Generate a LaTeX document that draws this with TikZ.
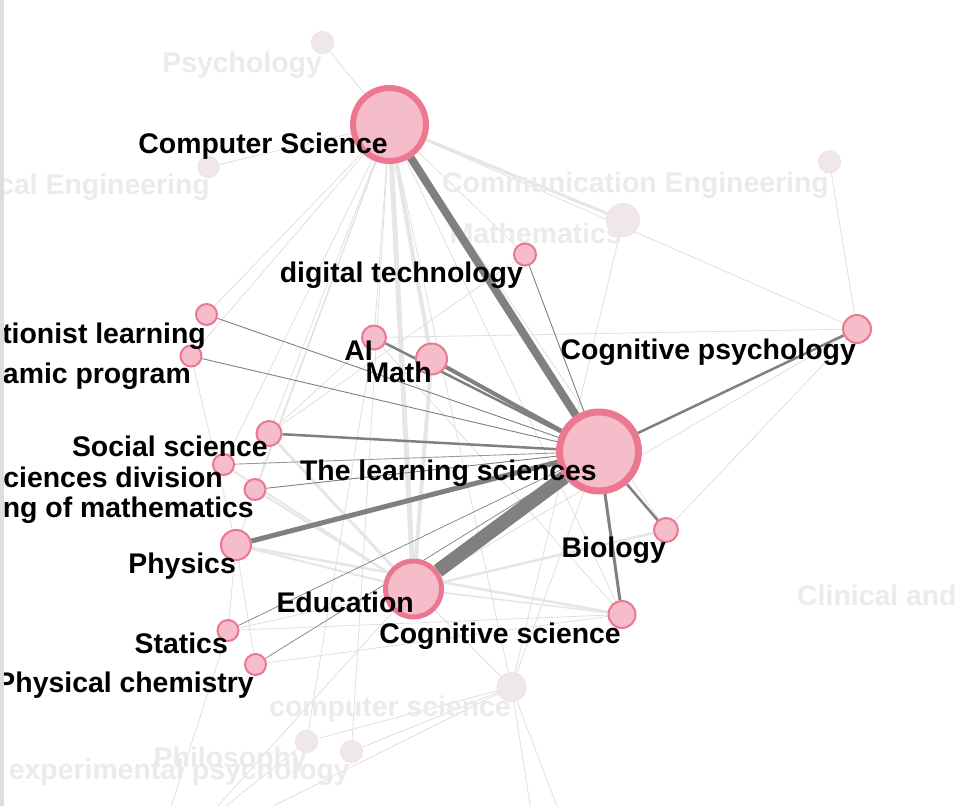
\documentclass[tikz,border=0pt]{standalone}
\usepackage{fontspec}
\setmainfont{Liberation Sans}
\definecolor{pinkfill}{HTML}{F5BCC9}
\definecolor{pinkdraw}{HTML}{EC7790}
\definecolor{fadefill}{HTML}{EFE7EA}
\definecolor{fadedraw}{HTML}{EDE3E6}
\definecolor{fadetext}{HTML}{EBEBEB}
\definecolor{darkedge}{HTML}{808080}
\definecolor{midedge}{HTML}{9A9A9A}
\definecolor{lightedge}{HTML}{E0E0E0}
\definecolor{thickedge}{HTML}{E6E6E6}
\definecolor{stripgray}{HTML}{DEDEDE}
\pgfdeclarelayer{bg}
\pgfdeclarelayer{ledge}
\pgfdeclarelayer{fade}
\pgfdeclarelayer{dedge}
\pgfdeclarelayer{labels}
\pgfsetlayers{bg,ledge,fade,dedge,main,labels}
\tikzset{
  hl/.style={circle, fill=pinkfill, draw=pinkdraw, inner sep=0pt},
  fd/.style={circle, fill=fadefill, draw=fadedraw, line width=1pt, inner sep=0pt},
  lab/.style={font=\fontsize{28.4}{30}\selectfont\bfseries, text=black, inner sep=0pt, anchor=base east},
  flab/.style={lab, text=fadetext},
  le/.style={draw=lightedge, line width=0.8pt},
  lt/.style={draw=thickedge},
  de/.style={draw=darkedge},
}
\begin{document}
\begin{tikzpicture}[x=1pt,y=-1pt]
\useasboundingbox (0,0) rectangle (956,806);
\begin{pgfonlayer}{bg}
\fill[white] (0,0) rectangle (956,806);
\end{pgfonlayer}

% highlighted nodes
\node[hl, minimum size=73pt, line width=6pt] (cs) at (389.5,124.5) {};
\node[hl, minimum size=79pt, line width=7pt] (ls) at (599,451.5) {};
\node[hl, minimum size=56pt, line width=5pt] (edu) at (413.5,589) {};
\node[hl, minimum size=31pt, line width=2pt] (math) at (431.5,359) {};
\node[hl, minimum size=24pt, line width=2pt] (ai) at (374,337.5) {};
\node[hl, minimum size=22pt, line width=2pt] (dt) at (525,254.5) {};
\node[hl, minimum size=21pt, line width=2pt] (con) at (206.5,314.5) {};
\node[hl, minimum size=21pt, line width=2pt] (dyn) at (191,356) {};
\node[hl, minimum size=25pt, line width=2pt] (soc) at (269,433.5) {};
\node[hl, minimum size=21pt, line width=2pt] (scd) at (223.5,464.5) {};
\node[hl, minimum size=21pt, line width=2pt] (ngm) at (255,489.5) {};
\node[hl, minimum size=30pt, line width=2pt] (phy) at (236,545) {};
\node[hl, minimum size=24pt, line width=2pt] (bio) at (666,530) {};
\node[hl, minimum size=28pt, line width=2pt] (cgp) at (857,329) {};
\node[hl, minimum size=27pt, line width=2pt] (cgs) at (622,614.5) {};
\node[hl, minimum size=21pt, line width=2pt] (sta) at (228,630.5) {};
\node[hl, minimum size=21pt, line width=2pt] (pch) at (255.5,664.5) {};

% faded nodes
\begin{pgfonlayer}{fade}
\node[fd, minimum size=22pt] (psy) at (322.5,42.5) {};
\node[fd, minimum size=21pt] (ceng) at (208.5,167) {};
\node[fd, minimum size=22pt] (comm) at (829.5,162) {};
\node[fd, minimum size=33pt] (mth) at (623,220) {};
\node[fd, minimum size=29pt] (csn) at (511.5,687) {};
\node[fd, minimum size=22pt] (phi) at (306.5,741.5) {};
\node[fd, minimum size=22pt] (exp) at (351.5,751.5) {};
\end{pgfonlayer}

% off-screen ends
\coordinate (b1) at (534,830);
\coordinate (b2) at (566,830);
\coordinate (b3) at (162,835);
\coordinate (b4) at (196,830);
\coordinate (b5) at (225,830);

% light edges
\begin{pgfonlayer}{ledge}
\draw[lt, line width=5pt] (cs) -- (edu);
\draw[lt, line width=4pt] (cs) -- (math);
\draw[lt, line width=4pt] (math) -- (edu);
\draw[lt, line width=3pt] (cs) -- (mth);
\draw[lt, line width=3pt] (soc) -- (edu);
\draw[lt, line width=2.5pt] (bio) -- (edu);
\draw[lt, line width=2.5pt] (phy) -- (cgs);
\draw[lt, line width=2pt] (phy) -- (edu);
\draw[lt, line width=2pt] (scd) -- (edu);
\draw[lt, line width=2pt] (ngm) -- (edu);
\draw[lt, line width=1.5pt] (edu) -- (cgs);
\draw[le] (cs) -- (psy);
\draw[le] (cs) -- (ceng);
\draw[le] (cs) -- (cgp);
\draw[le] (cs) -- (ai);
\draw[le] (cs) -- (con);
\draw[le] (cs) -- (dyn);
\draw[le] (cs) -- (soc);
\draw[le] (cs) -- (phy);
\draw[le] (cs) -- (csn);
\draw[le] (cs) -- (cgs);
\draw[le] (cs) -- (bio);
\draw[le] (cs) -- (dt);
\draw[le] (cs) -- (scd);
\draw[le] (cs) -- (ngm);
\draw[le] (mth) -- (csn);
\draw[le] (comm) -- (cgp);
\draw[le] (cgp) -- (ai);
\draw[le] (cgp) -- (bio);
\draw[le] (cgp) -- (edu);
\draw[le] (cgs) -- (sta);
\draw[le] (cgs) -- (ai);
\draw[le] (cgs) -- (pch);
\draw[le] (phy) -- (sta);
\draw[le] (phy) -- (pch);
\draw[le] (dyn) -- (phy);
\draw[le] (soc) -- (ai);
\draw[le] (soc) -- (dt);
\draw[le] (ls) -- (csn);
\draw[le] (csn) -- (b1);
\draw[le] (csn) -- (b2);
\draw[le] (csn) -- (phi);
\draw[le] (csn) -- (exp);
\draw[le] (csn) -- (edu);
\draw[le] (csn) -- (b5);
\draw[le] (b3) -- (sta);
\draw[le] (b4) -- (phi);
\draw[le] (b4) -- (edu);
\draw[le] (phi) -- (ai);
\draw[le] (exp) -- (cs);
\draw[le] (sta) -- (edu);
\end{pgfonlayer}

% dark edges
\begin{pgfonlayer}{dedge}
\draw[de, line width=14pt] (edu) -- (ls);
\draw[de, line width=8pt] (cs) -- (ls);
\draw[de, line width=5pt] (phy) -- (ls);
\draw[de, line width=4pt] (math) -- (ls);
\draw[de, line width=2.5pt] (ai) -- (ls);
\draw[de, line width=2.5pt] (soc) -- (ls);
\draw[de, line width=2.5pt] (cgp) -- (ls);
\draw[de, line width=2.5pt] (bio) -- (ls);
\draw[de, line width=3pt] (cgs) -- (ls);
\draw[de, line width=0.9pt] (con) -- (ls);
\draw[de, line width=0.9pt] (dyn) -- (ls);
\draw[draw=midedge, line width=0.9pt] (scd) -- (ls);
\draw[de, line width=0.9pt] (ngm) -- (ls);
\draw[de, line width=0.9pt] (dt) -- (ls);
\draw[de, line width=0.7pt] (sta) -- (ls);
\draw[de, line width=0.7pt] (pch) -- (ls);
\end{pgfonlayer}

% faded labels
\begin{pgfonlayer}{fade}
\node[flab] (lpsy) at (322,72) {Psychology};
\node[flab] (lceng) at (210,194) {cal Engineering};
\node[flab] (lcomm) at (829,192) {Communication Engineering};
\node[flab] (lmth) at (622,243) {Mathematics};
\node[flab, anchor=base west] (lclin) at (797,605) {Clinical and};
\node[flab] (lcsn) at (511,716) {computer science};
\node[flab] (lexp) at (350,779) {experimental psychology};
\node[flab] (lphi) at (307,767) {Philosophy};
\end{pgfonlayer}

% labels
\begin{pgfonlayer}{labels}
\node[lab] (lcs) at (388,153) {Computer Science};
\node[lab] (ldt) at (523,282) {digital technology};
\node[lab] (lcon) at (206,343) {tionist learning};
\node[lab] (ldyn) at (191,383) {amic program};
\node[lab] (lai) at (373,360) {AI};
\node[lab] (lmath) at (432,382) {Math};
\node[lab] (lcgp) at (856,359) {Cognitive psychology};
\node[lab] (lsoc) at (268,456) {Social science};
\node[lab] (lscd) at (223,487) {ciences division};
\node[lab] (lngm) at (254,517) {ng of mathematics};
\node[lab] (lls) at (597,480) {The learning sciences};
\node[lab] (lphy) at (236,573) {Physics};
\node[lab] (lbio) at (666,557) {Biology};
\node[lab] (ledu) at (414,612) {Education};
\node[lab] (lcgs) at (621,643) {Cognitive science};
\node[lab] (lsta) at (228,653) {Statics};
\node[lab] (lpch) at (254,692) {Physical chemistry};
\fill[stripgray] (0,0) rectangle (3.5,806);
\end{pgfonlayer}
\end{tikzpicture}
\end{document}
